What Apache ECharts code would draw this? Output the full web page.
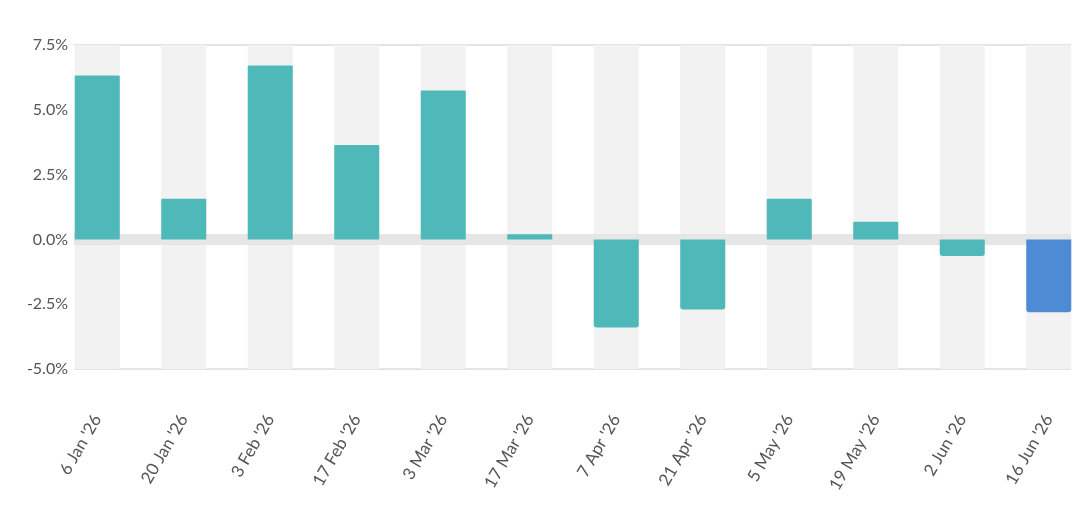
<!DOCTYPE html>
<html>
<head>
<meta charset="utf-8">
<script src="https://cdn.jsdelivr.net/npm/echarts@6/dist/echarts.min.js"></script>
<style>
  html, body { margin: 0; padding: 0; background: #fff; }
  #chart { width: 1092px; height: 506px; }
</style>
</head>
<body>
<div id="chart"></div>
<script>
// two-week periods
const categories = ["6 Jan '26", "20 Jan '26", "3 Feb '26", "17 Feb '26", "3 Mar '26", "17 Mar '26",
                    "7 Apr '26", "21 Apr '26", "5 May '26", "19 May '26", "2 Jun '26", "16 Jun '26"];
// percent change
const values = [6.32, 1.57, 6.71, 3.64, 5.74, 0.2, -3.4, -2.7, 1.57, 0.68, -0.64, -2.81];
const yTicks = [-5, -2.5, 0, 2.5, 5, 7.5];

const TEAL = '#4fb9ba';
const BLUE = '#4f8ad4';
const font = 'Lato, "Open Sans", sans-serif';

let chart = echarts.init(document.getElementById('chart'), null, { renderer: 'canvas' });

let yMin = yTicks[0], yMax = yTicks[yTicks.length - 1];
let step = yTicks[1] - yTicks[0];

chart.setOption({
    animation: false,
    grid: [
        // lines only, spanning first bar edge to last bar edge
        { left: 74, right: 21, top: 45, bottom: 137 },
        // bars
        { left: 54, right: 0, top: 45, bottom: 137 }
    ],
    xAxis: [
        {
            gridIndex: 0, type: 'category', data: categories, z: 3,
            axisLine: { show: true, onZero: true, lineStyle: { color: '#e6e6e6', width: 11, cap: 'butt' } },
            axisTick: { show: false }, axisLabel: { show: false }, splitLine: { show: false }
        },
        {
            gridIndex: 1, type: 'category', data: categories,
            axisLine: { show: false, onZero: false }, axisTick: { show: false },
            axisLabel: {
                rotate: 60, margin: 47, interval: 0,
                color: '#555', fontSize: 17, fontFamily: font
            }
        }
    ],
    yAxis: [
        {
            gridIndex: 0, type: 'value', min: yMin, max: yMax, interval: step,
            axisLine: { show: false }, axisTick: { show: false },
            axisLabel: {
                margin: 6, color: '#555', fontSize: 16, fontFamily: font,
                padding: [6, 0, 0, 0],
                formatter: v => v.toFixed(1) + '%'
            },
            splitLine: {
                show: true,
                lineStyle: { width: 2, color: yTicks.map((t, i) => (i === 0 || i === yTicks.length - 1) ? '#e4e4e4' : 'rgba(0,0,0,0)') }
            }
        },
        {
            gridIndex: 1, type: 'value', min: yMin, max: yMax, interval: step,
            axisLine: { show: false }, axisTick: { show: false },
            axisLabel: { show: false }, splitLine: { show: false }
        }
    ],
    series: [
        {
            // background stripes behind each bar
            type: 'bar', xAxisIndex: 1, yAxisIndex: 1, z: 1, silent: true,
            data: values, barWidth: 45,
            itemStyle: { color: 'rgba(0,0,0,0)' },
            showBackground: true,
            backgroundStyle: { color: '#f2f2f2' }
        },
        {
            type: 'bar', xAxisIndex: 1, yAxisIndex: 1, z: 5,
            barWidth: 45, barGap: '-100%',
            data: values.map((v, i) => ({
                value: v,
                itemStyle: {
                    color: i === values.length - 1 ? BLUE : TEAL,
                    borderRadius: v < 0 ? [0, 0, 3, 3] : [1, 1, 0, 0]
                }
            }))
        }
    ]
});
</script>
</body>
</html>
